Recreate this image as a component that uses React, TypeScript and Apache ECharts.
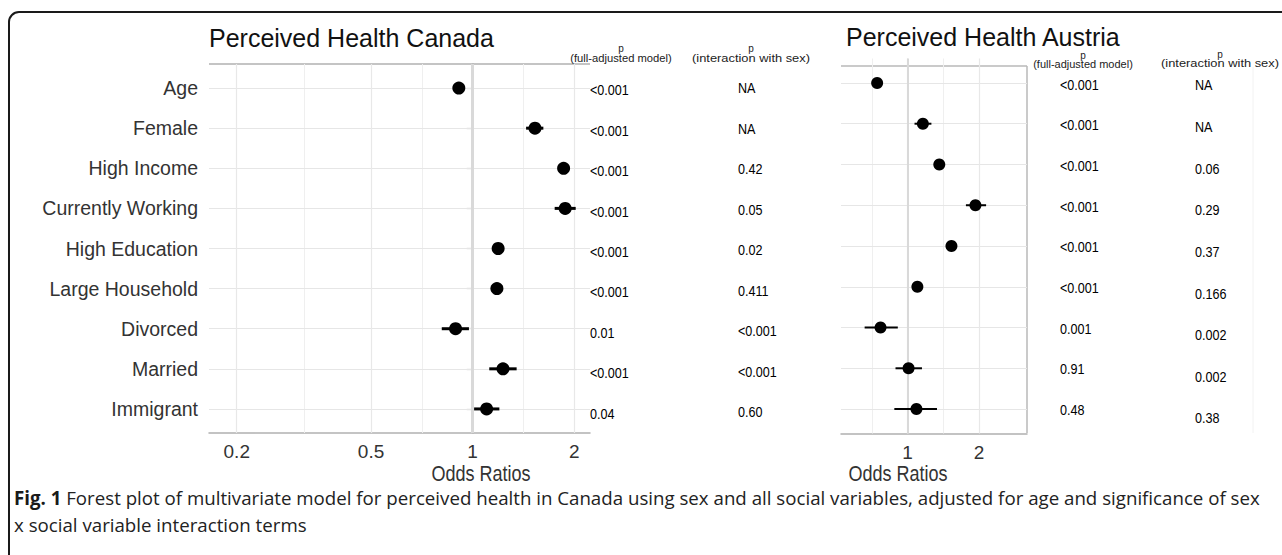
import React, { useEffect, useRef } from "react";
import * as echarts from "echarts";

// ---------- data ----------
const categories = [
  "Age",
  "Female",
  "High Income",
  "Currently Working",
  "High Education",
  "Large Household",
  "Divorced",
  "Married",
  "Immigrant",
];

const canadaOR = [0.91, 1.53, 1.86, 1.88, 1.19, 1.18, 0.89, 1.23, 1.1];
const canadaLow = [0.89, 1.44, 1.81, 1.75, 1.15, 1.14, 0.81, 1.12, 1.01];
const canadaHigh = [0.93, 1.62, 1.91, 2.02, 1.23, 1.22, 0.975, 1.35, 1.2];

const austriaOR = [0.745, 1.16, 1.36, 1.93, 1.53, 1.1, 0.77, 1.01, 1.09];
const austriaLow = [0.73, 1.07, 1.32, 1.76, 1.46, 1.07, 0.66, 0.89, 0.88];
const austriaHigh = [0.76, 1.26, 1.4, 2.14, 1.61, 1.13, 0.91, 1.15, 1.33];

const canadaPFull = ["<0.001", "<0.001", "<0.001", "<0.001", "<0.001", "<0.001", "0.01", "<0.001", "0.04"];
const canadaPInter = ["NA", "NA", "0.42", "0.05", "0.02", "0.411", "<0.001", "<0.001", "0.60"];
const austriaPFull = ["<0.001", "<0.001", "<0.001", "<0.001", "<0.001", "<0.001", "0.001", "0.91", "0.48"];
const austriaPInter = ["NA", "NA", "0.06", "0.29", "0.37", "0.166", "0.002", "0.002", "0.38"];

const canadaTicks = [0.2, 0.5, 1, 2];
const canadaMinor = [0.316, 0.707, 1.414];
const austriaTicks = [1, 2];
const austriaMinor = [0.707, 1.414];

const canadaRange = [0.1655, 2.227];
const austriaRange = [0.525, 3.18];

const titleCanada = "Perceived Health Canada";
const titleAustria = "Perceived Health Austria";
const xTitle = "Odds Ratios";
const headerP = "p";
const headerFull = "(full-adjusted model)";
const headerInter = "(interaction with sex)";
const captionBold = "Fig. 1";
const captionLine1 =
  " Forest plot of multivariate model for perceived health in Canada using sex and all social variables, adjusted for age and significance of sex";
const captionLine2 = "x social variable interaction terms";

// ---------- helpers ----------
const FONT = "'Liberation Sans', Arial, Helvetica, sans-serif";
const CAPTION_FONT = "'Open Sans', 'Noto Sans', sans-serif";
const lg = (v: number) => Math.log10(v);
const rows = categories.map((_, i) => i + 1);
const fmtTick = (v: number) => String(Math.round(Math.pow(10, v) * 10) / 10);

function gridLineSeries(axis: number, majors: number[], minors: number[], refWidth: number) {
  return {
    type: "line",
    xAxisIndex: axis,
    yAxisIndex: axis,
    data: [],
    z: 1,
    silent: true,
    markLine: {
      z: 1,
      silent: true,
      symbol: ["none", "none"],
      label: { show: false },
      animation: false,
      data: [
        ...minors.map((v) => ({ xAxis: lg(v), lineStyle: { color: "#efefef", width: 1, type: "solid" } })),
        ...rows.map((r) => ({ yAxis: r, lineStyle: { color: "#e6e6e6", width: 1.2, type: "solid" } })),
        ...majors.map((v) => ({ xAxis: lg(v), lineStyle: { color: "#e8e8e8", width: 1.2, type: "solid" } })),
        { xAxis: 0, lineStyle: { color: "#d9d9d9", width: refWidth, type: "solid" } },
      ],
    },
  };
}

function ciSeries(axis: number, low: number[], high: number[], width: number) {
  return {
    type: "custom",
    xAxisIndex: axis,
    yAxisIndex: axis,
    z: 9,
    silent: true,
    data: rows.map((r, i) => [lg(low[i]), lg(high[i]), r]),
    encode: { x: [0, 1], y: 2 },
    renderItem: (_p: any, api: any) => {
      const a = api.coord([api.value(0), api.value(2)]);
      const b = api.coord([api.value(1), api.value(2)]);
      return {
        type: "line",
        shape: { x1: a[0], y1: a[1], x2: b[0], y2: b[1] },
        style: { stroke: "#000", lineWidth: width },
      };
    },
  };
}

function dotSeries(axis: number, or: number[], size: number) {
  return {
    type: "scatter",
    xAxisIndex: axis,
    yAxisIndex: axis,
    z: 10,
    silent: true,
    symbol: "circle",
    symbolSize: size,
    itemStyle: { color: "#000", opacity: 1 },
    data: rows.map((r, i) => [lg(or[i]), r]),
  };
}

function tableSeries(axis: number, values: string[]) {
  return {
    type: "custom",
    xAxisIndex: axis,
    yAxisIndex: axis,
    silent: true,
    data: rows.map((r) => [0, r]),
    encode: { x: 0, y: 1 },
    renderItem: (params: any, api: any) => {
      const c = api.coord([api.value(0), api.value(1)]);
      return {
        type: "text",
        x: c[0],
        y: c[1],
        scaleX: 0.84,
        style: {
          text: values[params.dataIndex],
          font: `15px ${FONT}`,
          fill: "#000",
          align: "left",
          verticalAlign: "middle",
        },
      };
    },
  };
}

const hiddenX = { type: "value", show: false, min: 0, max: 1 };
const hiddenY = { type: "value", show: false, min: 0.4, max: 9.6, inverse: true };

function headerTexts(cx: number, py: number, sy: number, label: string, scaleX: number) {
  return [
    {
      type: "text",
      x: cx,
      y: py,
      silent: true,
      style: { text: headerP, font: `10px ${FONT}`, fill: "#222", align: "center", verticalAlign: "middle" },
    },
    {
      type: "text",
      x: cx,
      y: sy,
      scaleX,
      silent: true,
      style: { text: label, font: `11px ${FONT}`, fill: "#222", align: "center", verticalAlign: "middle" },
    },
  ];
}

function buildOption() {
  return {
    animation: false,
    backgroundColor: "#fff",
    grid: [
      { left: 209, top: 64, width: 381, height: 369 },
      { left: 841, top: 58.5, width: 186, height: 375 },
      { left: 590, top: 65.8, width: 80, height: 371.6 },
      { left: 738, top: 63.7, width: 80, height: 372.6 },
      { left: 1060, top: 60, width: 80, height: 374 },
      { left: 1195, top: 60, width: 80, height: 383 },
    ],
    xAxis: [
      {
        type: "value",
        gridIndex: 0,
        min: lg(canadaRange[0]),
        max: lg(canadaRange[1]),
        splitLine: { show: false },
        axisTick: { show: false },
        axisLine: { show: true, lineStyle: { color: "#b0b0b0", width: 1.5 } },
        axisLabel: {
          customValues: canadaTicks.map(lg),
          formatter: fmtTick,
          fontSize: 19,
          fontFamily: FONT,
          color: "#333",
          margin: 9,
        },
      },
      {
        type: "value",
        gridIndex: 1,
        min: lg(austriaRange[0]),
        max: lg(austriaRange[1]),
        splitLine: { show: false },
        axisTick: { show: false },
        axisLine: { show: true, lineStyle: { color: "#b0b0b0", width: 1.5 } },
        axisLabel: {
          customValues: austriaTicks.map(lg),
          formatter: fmtTick,
          fontSize: 19,
          fontFamily: FONT,
          color: "#333",
          margin: 9,
        },
      },
      { ...hiddenX, gridIndex: 2 },
      { ...hiddenX, gridIndex: 3 },
      { ...hiddenX, gridIndex: 4 },
      { ...hiddenX, gridIndex: 5 },
    ],
    yAxis: [
      {
        type: "value",
        gridIndex: 0,
        min: 0.4,
        max: 9.6,
        inverse: true,
        splitLine: { show: false },
        axisLine: { show: true, lineStyle: { color: "#b0b0b0", width: 1.5 } },
        axisTick: { show: true, length: 6, customValues: rows, lineStyle: { color: "#b0b0b0", width: 1.2 } },
        axisLabel: {
          customValues: rows,
          formatter: (v: number) => categories[Math.round(v) - 1] ?? "",
          fontSize: 19.5,
          fontFamily: FONT,
          color: "#333",
          margin: 11,
        },
      },
      { ...hiddenY, gridIndex: 1 },
      { ...hiddenY, gridIndex: 2 },
      { ...hiddenY, gridIndex: 3 },
      { ...hiddenY, gridIndex: 4 },
      { ...hiddenY, gridIndex: 5 },
    ],
    series: [
      gridLineSeries(0, canadaTicks, canadaMinor, 3),
      gridLineSeries(1, austriaTicks, austriaMinor, 2),
      ciSeries(0, canadaLow, canadaHigh, 3),
      ciSeries(1, austriaLow, austriaHigh, 2),
      dotSeries(0, canadaOR, 13),
      dotSeries(1, austriaOR, 12),
      tableSeries(2, canadaPFull),
      tableSeries(3, canadaPInter),
      tableSeries(4, austriaPFull),
      tableSeries(5, austriaPInter),
    ],
    graphic: [
      {
        type: "rect",
        silent: true,
        shape: { x: 9, y: 12, width: 1300, height: 600, r: 10 },
        style: { fill: "none", stroke: "#1a1a1a", lineWidth: 2 },
      },
      // panel borders
      { type: "line", silent: true, shape: { x1: 209, y1: 64, x2: 590, y2: 64 }, style: { stroke: "#b0b0b0", lineWidth: 1.5 } },
      { type: "line", silent: true, shape: { x1: 841, y1: 66, x2: 1027, y2: 66 }, style: { stroke: "#b8b8b8", lineWidth: 1.5 } },
      { type: "line", silent: true, shape: { x1: 1027, y1: 66, x2: 1027, y2: 433 }, style: { stroke: "#b8b8b8", lineWidth: 1.5 } },
      { type: "line", silent: true, shape: { x1: 1253, y1: 67, x2: 1253, y2: 433 }, style: { stroke: "#f2f2f2", lineWidth: 1 } },
      // titles
      {
        type: "text",
        x: 209,
        y: 38,
        silent: true,
        style: { text: titleCanada, font: `25px ${FONT}`, fill: "#111", align: "left", verticalAlign: "middle" },
      },
      {
        type: "text",
        x: 846,
        y: 37,
        silent: true,
        style: { text: titleAustria, font: `25px ${FONT}`, fill: "#111", align: "left", verticalAlign: "middle" },
      },
      ...headerTexts(621, 48, 58, headerFull, 1.02),
      ...headerTexts(751, 48, 58, headerInter, 1.17),
      ...headerTexts(1083, 55, 64, headerFull, 1.0),
      ...headerTexts(1220, 54, 63, headerInter, 1.17),
      // axis titles
      {
        type: "text",
        x: 481,
        y: 473,
        scaleX: 0.82,
        silent: true,
        style: { text: xTitle, font: `22px ${FONT}`, fill: "#333", align: "center", verticalAlign: "middle" },
      },
      {
        type: "text",
        x: 898,
        y: 473,
        scaleX: 0.82,
        silent: true,
        style: { text: xTitle, font: `22px ${FONT}`, fill: "#333", align: "center", verticalAlign: "middle" },
      },
      // caption
      {
        type: "text",
        x: 14,
        y: 497,
        silent: true,
        style: {
          text: `{b|${captionBold}}${captionLine1}`,
          font: `18.7px ${CAPTION_FONT}`,
          fill: "#222",
          align: "left",
          verticalAlign: "middle",
          rich: { b: { fontWeight: "bold", fontSize: 18.7, fontFamily: CAPTION_FONT, fill: "#1a1a1a" } },
        },
      },
      {
        type: "text",
        x: 14,
        y: 524,
        silent: true,
        style: { text: captionLine2, font: `18.7px ${CAPTION_FONT}`, fill: "#222", align: "left", verticalAlign: "middle" },
      },
    ],
  };
}

export default function App() {
  const ref = useRef<HTMLDivElement>(null);
  useEffect(() => {
    if (!ref.current) return;
    const chart = echarts.init(ref.current, undefined, { renderer: "svg" });
    chart.setOption(buildOption() as any);
    return () => chart.dispose();
  }, []);
  return (
    <div
      ref={ref}
      style={{ position: "fixed", left: 0, top: 0, width: 1282, height: 555, background: "#fff" }}
    />
  );
}
